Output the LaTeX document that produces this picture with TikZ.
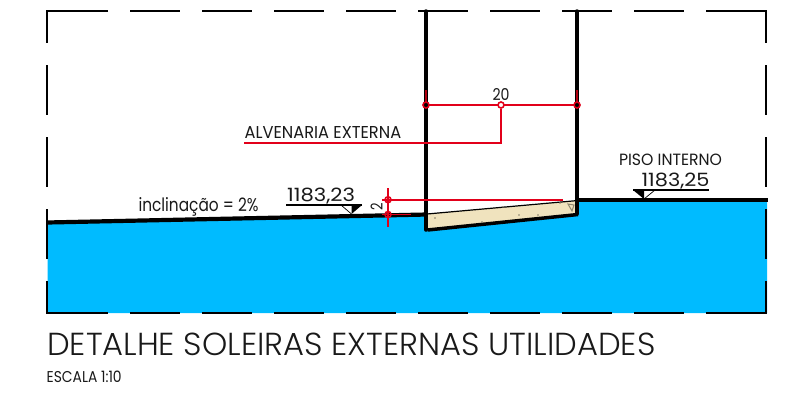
\documentclass[tikz,border=0pt]{standalone}
\usepackage{fontspec}
\setmainfont{Poppins}
\newfontfamily\lightfont{Poppins}[UprightFont=* Light]
\definecolor{aguablue}{HTML}{00BBFF}
\definecolor{sillfill}{HTML}{F0E3BE}
\definecolor{dimred}{HTML}{E2001A}
\definecolor{darkred}{HTML}{B00010}
\newcommand{\fitbox}[3]{\resizebox{#1bp}{#2bp}{#3}}
\tikzset{
  frameline/.style={line width=2.6bp,black},
  wallline/.style={line width=3.5bp,black,line cap=round},
  groundline/.style={line width=4.2bp,black},
  dimline/.style={line width=1.9bp,dimred},
  tickline/.style={line width=1.9bp,darkred},
  dimdot/.style={circle,draw=dimred,line width=1.6bp,fill=black,inner sep=0pt,minimum size=6bp},
  opendot/.style={circle,draw=dimred,line width=1.6bp,fill=white,inner sep=0pt,minimum size=6bp},
  label/.style={inner sep=0pt,text=black!90},
  levelline/.style={line width=1.3bp,black},
}
\begin{document}
\begin{tikzpicture}[x=1bp,y=-1bp]
\useasboundingbox (0,0) rectangle (810,413);
% soil
\fill[aguablue] (47.5,222.5) -- (427,214.5) -- (427,230) -- (578,215) -- (578,200) -- (767,200) -- (767,313) -- (47.5,313) -- cycle;
% sill
\coordinate (sTL) at (427,214);
\coordinate (sTR) at (578,200.5);
\coordinate (sBR) at (578,214.5);
\coordinate (sBL) at (427.5,230);
\fill[sillfill] (sTL) -- (sTR) -- (sBR) -- (sBL) -- cycle;
\draw[line width=1.2bp,black] (sTL) -- (sTR);
\draw[line width=3.5bp,black] (sBL) -- (sBR);
% sill texture
\foreach \p in {(435,218),(482,222),(519,215),(538,215),(503,207),(560,203)}
  \fill[black!45!sillfill] \p circle (0.8bp);
\draw[line width=1bp,black!40!sillfill] (568,204) -- (574,205) -- (572,211) -- cycle;
% dashed frame
\draw[frameline] (108,11) -- (47,11) -- (47,42.5);
\draw[frameline] (47,65) -- (47,115);
\draw[frameline] (47,137) -- (47,187);
\draw[frameline] (47,209) -- (47,259);
\draw[frameline] (47,281) -- (47,313) -- (108,313);
\foreach \x in {130,202,274,346,418,490,562,634}{
  \draw[frameline] (\x,313) -- ++(50,0);
  \draw[frameline] (\x,11) -- ++(50,0);
}
\draw[frameline] (706,11) -- (766,11) -- (766,42.5);
\draw[frameline] (766,65) -- (766,115);
\draw[frameline] (766,137) -- (766,187);
\draw[frameline] (766,209) -- (766,259);
\draw[frameline] (766,281) -- (766,313) -- (706,313);
% ground
\draw[groundline] (47,222.5) -- (427,214.5);
\draw[groundline] (577,200) -- (767.5,200);
% walls
\draw[wallline] (426,11) -- (426,230);
\draw[wallline] (577,11) -- (577,214);
% dimensions
\coordinate (w1) at (426,105);
\coordinate (w2) at (577,105);
\draw[tickline] (426,90) -- (w1);
\draw[tickline] (577,90) -- (w2);
\draw[dimline] (w1) -- (w2);
\node[opendot] (m20) at (501,105) {};
\node[dimdot] (d1) at (w1) {};
\node[dimdot] (d2) at (w2) {};
\coordinate (lead) at (244,143);
\draw[dimline] (m20) |- (lead);
\node[label] (t20) at (501,94) {\fitbox{17}{12}{20}};
\node[label,anchor=south west] (alv) at (244.5,138.5) {\fitbox{156.5}{12}{ALVENARIA EXTERNA}};
\coordinate (v1) at (388,188);
\coordinate (v2) at (388,227);
\coordinate (h1) at (563,199.7);
\coordinate (h2) at (411,214.5);
\draw[dimline] (v1) -- (v2);
\draw[dimline] (382,199.7) -- (h1);
\draw[dimline] (382,214.5) -- (h2);
\node[opendot,fill=none] (c1) at (388,199.7) {};
\node[opendot,fill=none] (c2) at (388,214.5) {};
\node[label,rotate=90] (t2) at (376.5,207) {\fitbox{7.5}{12}{2}};
% level marks
\draw[levelline] (286,205) -- (362,205);
\fill[black] (351.5,214) -- (351.5,205) -- (362,205) -- cycle;
\draw[line width=0.7bp,black] (341,205) -- (351.5,214);
\node[label,anchor=base] (l1) at (321,201) {\fitbox{68}{13.5}{1183,23}};
\draw[levelline] (633,190) -- (709,190);
\fill[black] (644,199) -- (644,190) -- (633,190) -- cycle;
\draw[line width=0.7bp,black] (655,190) -- (644,199);
\node[label,anchor=base] (l2) at (675.5,186) {\fitbox{68}{13.5}{1183,25}};
\node[label] (piso) at (670.5,160) {\fitbox{103}{11.5}{PISO INTERNO}};
\node[label] (incl) at (198.5,207) {\fitbox{120}{14}{inclinação = 2\%}};
% titles
\node[label,anchor=south west] (title) at (47,355.5) {\fitbox{608}{22.5}{\lightfont DETALHE SOLEIRAS EXTERNAS UTILIDADES}};
\node[label,anchor=south west] (esc) at (46.5,383) {\fitbox{75}{11.5}{ESCALA 1:10}};
\end{tikzpicture}
\end{document}
